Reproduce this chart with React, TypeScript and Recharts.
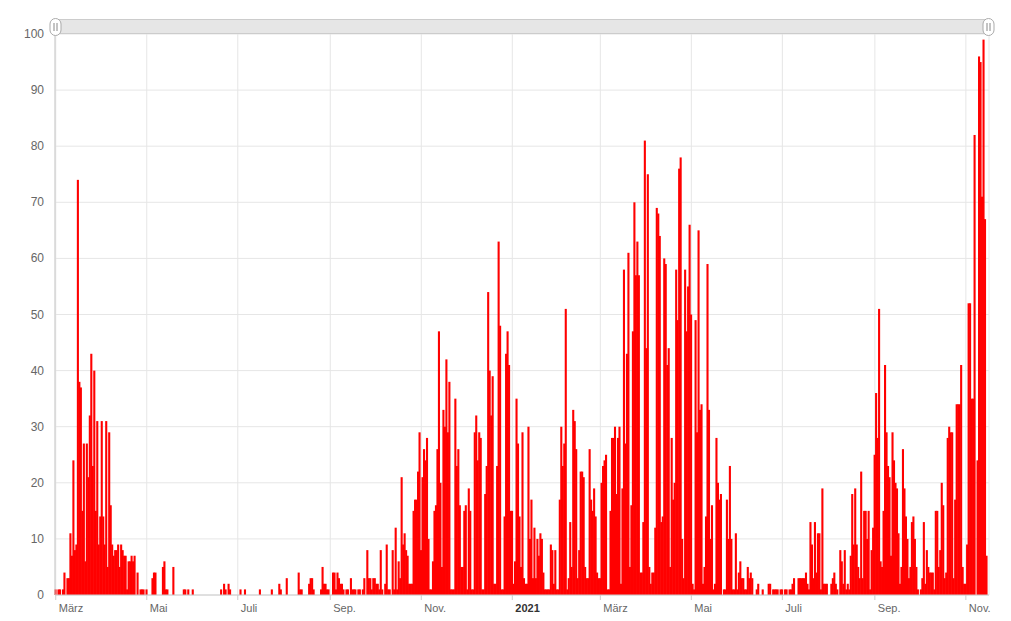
import { BarChart, Bar, XAxis, YAxis, CartesianGrid } from 'recharts';

// daily values, one per day from 1. März 2020
const spring2020 = [
  1, 0, 1, 1, 0, 1, 4, 0, 3, 3, 11, 7, 24, 8, 9, 74, 38, 37, 15, 27,
  6, 27, 21, 32, 43, 23, 40, 15, 31, 9, 14, 31, 14, 9, 31, 5, 29, 16, 9, 7,
  8, 8, 9, 5, 9, 8, 7, 7, 1, 6, 6, 7, 6, 7, 0, 4, 0, 1, 1, 1,
  0, 1, 0,
];

const summer2020 = [
  0, 0, 3, 4, 4, 0, 0, 0, 0, 5, 6, 1, 1, 0, 0, 0, 5, 0, 0, 0,
  0, 0, 0, 1, 1, 0, 1, 0, 0, 1, 0, 0, 0, 0, 0, 0, 0, 0,
  0, 0, 0, 0, 0, 0, 0, 0, 0, 0,
  1, 0, 2, 1, 0, 2, 1, 0, 0, 0,
  0, 0, 0, 1, 0, 0, 1, 0, 0, 0,
  0, 0, 0, 0, 0, 0, 1, 0, 0, 0,
  0, 0, 0, 0, 1, 0, 0, 0, 0, 2,
  1, 0, 0, 0, 3, 0, 0, 0, 0, 0,
  0, 0, 4, 1, 1, 0, 0, 0, 0, 2,
  3, 3, 1, 0, 0, 0, 0, 1, 5, 2,
  2, 1, 1, 0, 0, 4, 4, 1, 4, 3,
  2, 2, 1, 0, 1, 1, 0, 3, 1, 1,
  1, 0, 1, 1, 0, 1, 3, 0, 8, 3,
  3, 1, 3, 3, 2, 2, 1, 8, 1, 0,
  2, 9, 1, 1, 0, 8, 1, 12, 1, 6,
];

const wave2 = [
  3, 21, 9, 11, 8, 7, 2, 2, 2, 15, 17, 17, 22, 29, 8, 21, 26, 24, 28, 10,
  1, 1, 6, 15, 16, 26, 47, 20, 5, 33, 30, 42, 29, 38, 1, 1, 1, 35, 23, 26,
  16, 5, 5, 15,
  16, 1, 19, 15, 1, 1, 29, 32, 24, 29, 28, 1, 1, 18, 23, 54, 40, 32, 39, 2,
  2, 23, 63, 48, 1, 1, 14, 43, 47, 41, 15, 15, 2, 6, 35, 27, 14, 5, 29, 3,
  2, 2, 30, 10, 17, 3, 12, 3, 10, 7,
];

const wave3 = [
  11, 10, 4, 1, 1, 1, 1, 9, 8, 2, 8, 1, 1, 17, 30, 23, 27, 51, 1, 3,
  13, 5, 33, 31, 26, 3, 8, 22, 22, 21, 5, 3, 3, 26, 17, 15, 19, 14, 4, 3,
  3, 20, 23, 24, 25, 1, 1, 15, 28,
  28, 30, 18, 28, 30, 2, 19, 58, 27, 43, 61, 5, 16, 47, 70, 57, 63, 57, 4, 4,
  13, 81, 44, 75, 5, 2, 4, 4, 12, 69, 68, 64, 13,
  14, 60, 59, 41, 44, 5, 28, 17, 20, 58, 49, 76, 78, 10, 3, 58, 47, 55, 66, 50,
  2, 1, 49, 29, 65, 33, 34, 2, 5, 14, 59, 33, 10, 16, 1, 2, 28, 20, 17, 18,
  0, 1, 1, 17, 10, 23, 10, 1, 1, 11, 1, 4,
];

const summer2021 = [
  6, 3, 3, 1, 1, 5, 3, 4, 3, 0, 0, 1, 2, 0, 0, 1, 0, 0, 0, 2,
  2, 0, 1, 1, 1, 1, 0, 1, 1, 0, 1, 1, 0, 1, 1, 2, 3, 0, 0, 3,
  3, 3, 3, 3, 4, 2, 1, 13, 9, 3, 13, 4, 11, 11, 1, 19, 2, 2, 2, 0,
  0, 2, 3, 4, 2, 1, 0, 8, 6, 2, 8, 1, 2, 1, 7, 18, 9, 19, 9, 5,
  3, 22, 3, 15,
];

const wave4 = [
  15, 10, 15, 1, 8, 12, 25, 36, 28, 51, 6, 5, 15, 41, 29, 23, 21, 7, 29, 24,
  20, 19, 11, 2, 5, 26, 19, 14, 10, 3, 5, 13, 14, 10, 5, 1, 0, 1, 3, 13,
  2, 8, 5, 4, 4,
  4, 1, 15, 15, 5, 8, 20, 16, 3, 4, 28, 30, 29, 29, 3, 17, 34, 34, 34, 41,
  5, 2, 2, 9, 52, 52, 35, 35, 82, 0, 24, 96, 95, 71, 99, 67, 7, 0,
];

const dailyCases = [...spring2020, ...summer2020, ...wave2, ...wave3, ...summer2021, ...wave4];

// day index (from 1. März 2020) of each month tick, and its label
const tickDays = [0, 61, 122, 184, 245, 306, 365, 426, 487, 549, 610];
const tickLabels = ['März', 'Mai', 'Juli', 'Sep.', 'Nov.', '2021', 'März', 'Mai', 'Juli', 'Sep.', 'Nov.'];
const yTicks = [0, 10, 20, 30, 40, 50, 60, 70, 80, 90, 100];

const data = dailyCases.map((value, day) => ({ day, value }));

const W = 1011;
const H = 621;
const PLOT_LEFT = 55;
const PLOT_RIGHT = 989;
const BAND = (PLOT_RIGHT - PLOT_LEFT) / dailyCases.length;
const FONT = '"Liberation Sans", Arial, sans-serif';

const XTick = (props: any) => {
  const { x, y, payload } = props;
  const label = tickLabels[tickDays.indexOf(payload.value)];
  const isYear = /^\d{4}$/.test(label);
  return (
    <text x={x + 3} y={y} dy={10} fontSize={11} fontFamily={FONT}
      fill={isYear ? '#333333' : '#666666'} fontWeight={isYear ? 'bold' : 'normal'} textAnchor="start">
      {label}
    </text>
  );
};

const YTick = (props: any) => {
  const { x, y, payload } = props;
  return (
    <text x={x} y={y} dy={4} fontSize={12} fontFamily={FONT} fill="#666666" textAnchor="end">
      {payload.value}
    </text>
  );
};

// columns slightly overlap their neighbours, like the dense original
const Column = (props: any) => {
  const { x, y, width, height } = props;
  if (!height || height <= 0) return <g />;
  const cx = x + width / 2;
  const w = BAND + 0.6;
  return <rect x={cx - w / 2} y={y} width={w} height={height} fill="#ff0000" />;
};

const Handle = ({ cx }: { cx: number }) => (
  <g>
    <rect x={cx - 5.5} y={18.5} width={11} height={17} rx={5.5} ry={5.5} fill="#fff" stroke="#aaa" />
    <line x1={cx - 1.5} y1={23} x2={cx - 1.5} y2={31} stroke="#888" />
    <line x1={cx + 1.5} y1={23} x2={cx + 1.5} y2={31} stroke="#888" />
  </g>
);

export default function App() {
  return (
    <div style={{ position: 'absolute', left: 0, top: 0, width: W, height: H, background: '#fff' }}>
      <BarChart width={W} height={H} data={data} barCategoryGap={0}
        margin={{ top: 34, right: W - PLOT_RIGHT, bottom: 0, left: 15 }}>
        <CartesianGrid stroke="#e6e6e6" />
        <XAxis dataKey="day" type="category" ticks={tickDays} interval={0} height={26}
          tick={<XTick />} tickSize={5} tickMargin={2}
          axisLine={{ stroke: '#ccc' }} tickLine={{ stroke: '#ccc' }} />
        <YAxis domain={[0, 100]} ticks={yTicks} width={40} tick={<YTick />}
          tickLine={false} tickSize={0} tickMargin={11} axisLine={{ stroke: '#ccc' }} />
        <Bar dataKey="value" fill="#ff0000" isAnimationActive={false} shape={<Column />} />
      </BarChart>
      <svg width={W} height={H} style={{ position: 'absolute', left: 0, top: 0, pointerEvents: 'none' }}>
        <rect x={PLOT_LEFT + 0.5} y={19.5} width={PLOT_RIGHT - PLOT_LEFT} height={14} fill="#e6e6e6" stroke="#cccccc" />
        <Handle cx={PLOT_LEFT + 0.5} />
        <Handle cx={PLOT_RIGHT - 0.5} />
      </svg>
    </div>
  );
}
